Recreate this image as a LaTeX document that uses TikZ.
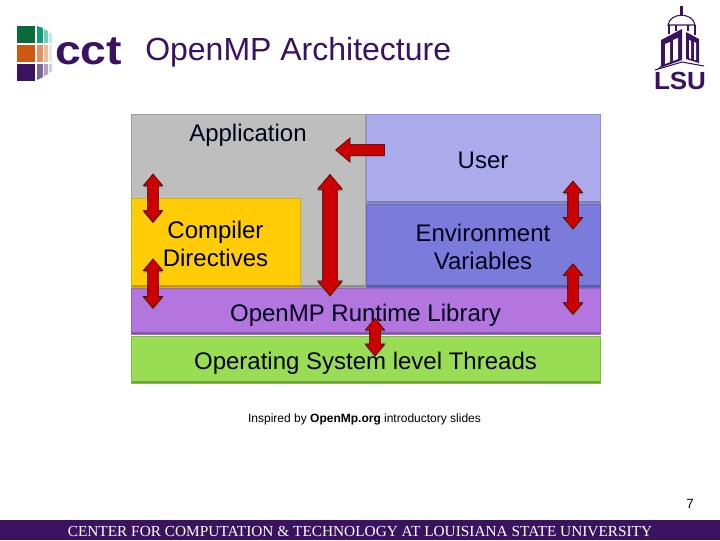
\documentclass[tikz,border=0pt]{standalone}
\usepackage{fontspec}
\setmainfont{Liberation Sans}
\newfontfamily\footerface{Liberation Serif}
\usetikzlibrary{positioning,shapes,shadows,arrows}
\usetikzlibrary{shapes.arrows}
\definecolor{lsupurple}{HTML}{3A1260}
\definecolor{redarrow}{HTML}{CC0000}
\definecolor{appgray}{HTML}{BEBEBE}
\definecolor{userblue}{HTML}{ABABEB}
\definecolor{envblue}{HTML}{7B7BDB}
\definecolor{compyellow}{HTML}{FFCC05}
\definecolor{libviolet}{HTML}{B376DF}
\definecolor{osgreen}{HTML}{99DD55}
\definecolor{cctgreen}{HTML}{0A6A3C}
\definecolor{cctorange}{HTML}{D0570F}
\definecolor{cctteal}{HTML}{0F9A7A}
\tikzset{
  panel/.style={fill=#1,draw=#1!85!black,line width=.5pt,inner sep=0pt,
    general shadow={fill=black!30,shadow xshift=.5pt,shadow yshift=-1pt},
    path picture={\draw[white,opacity=.5,line width=2pt]
      (path picture bounding box.north west) -- (path picture bounding box.north east);
      \draw[black,opacity=.25,line width=2.5pt]
      (path picture bounding box.south west) -- (path picture bounding box.south east);}},
  paneltext/.style={inner sep=0pt,align=center,text=black!90!blue,font=\fontsize{18}{21}\selectfont},
  updown/.style={double arrow,rotate=90,fill=redarrow,draw=black!70!redarrow,line width=.4pt,
    inner xsep=0pt,inner ysep=3.75pt,minimum height=#1,
    double arrow head extend=3.4pt,double arrow tip angle=80,
    general shadow={fill=black!50,shadow xshift=0pt,shadow yshift=-1.3pt}},
  bigupdown/.style={updown=#1,inner ysep=5.25pt,double arrow head extend=3.9pt},
  sideways/.style={single arrow,fill=redarrow,draw=black!70!redarrow,line width=.4pt,
    inner xsep=0pt,inner ysep=4.1pt,minimum height=#1,shape border rotate=180,
    single arrow head extend=4.9pt,single arrow tip angle=80},
}
\begin{document}
\begin{tikzpicture}[x=.75pt,y=-.75pt]
\useasboundingbox (0,0) rectangle (720,540);
% header
\node[anchor=west,inner sep=0pt,text=lsupurple,font=\fontsize{24}{28}\selectfont] (title) at (145,52) {OpenMP Architecture};
%
% cct logo
\fill[cctgreen] (17,26) rectangle (35,43);
\fill[cctorange] (17,45) rectangle (35,62);
\fill[lsupurple] (17,64) rectangle (35,81);
\fill[cctteal] (37,26) -- (43,28) -- (43,43) -- (37,43) -- cycle;
\fill[cctorange!65!white] (37,45) -- (43,45) -- (43,62) -- (37,62) -- cycle;
\fill[lsupurple!65!white] (37,64) -- (43,64) -- (43,77) -- (37,80) -- cycle;
\fill[cctteal!55!white] (44,29) -- (48,31) -- (48,43) -- (44,43) -- cycle;
\fill[cctorange!40!white] (44,45) -- (48,45) -- (48,62) -- (44,62) -- cycle;
\fill[lsupurple!40!white] (44,64) -- (48,64) -- (48,74) -- (44,76) -- cycle;
\fill[cctteal!25!white] (49,32) -- (52,34) -- (52,43) -- (49,43) -- cycle;
\fill[cctorange!18!white] (49,45) -- (52,45) -- (52,62) -- (49,62) -- cycle;
\fill[lsupurple!22!white] (49,64) -- (52,64) -- (52,71) -- (49,73) -- cycle;
\node[anchor=south,inner sep=0pt,text=lsupurple] (cct) at (88.5,65.5) {\resizebox{50.25pt}{20pt}{\bfseries cct}};
%
% lsu logo
\fill[lsupurple] (680,6) rectangle (683,15);
\draw[lsupurple,line width=.8pt] (668,25) .. controls (670,12) and (693,12) .. (695,25) -- cycle;
\draw[lsupurple,line width=.8pt] (669,25) -- (669,34) (676,25) -- (676,31) (688,25) -- (688,31) (695,25) -- (695,35);
\fill[lsupurple] (661,40) -- (682,29) -- (682,60) -- (657,69) -- (661,66) -- cycle;
\fill[white] (665,44) -- (670,42) -- (670,62) -- (665,64) -- cycle;
\fill[white] (673,40) -- (678,38) -- (678,59) -- (673,61) -- cycle;
\fill[lsupurple] (686,32) -- (699,39) -- (699,63) -- (686,59) -- cycle;
\fill[white] (689,40) -- (691,41) -- (691,59) -- (689,58) -- cycle;
\fill[white] (694,42) -- (696,43) -- (696,60) -- (694,60) -- cycle;
\draw[lsupurple,line width=.8pt] (655,70) -- (682,62) -- (704,66);
\node[anchor=south,inner sep=0pt,text=lsupurple] (lsu) at (680,90) {\resizebox{39pt}{13pt}{\bfseries LSU}};
%
% panels
\node[panel=appgray,minimum width=175.5pt,minimum height=129.75pt] (app) at (248,200.5) {};
\node[panel=userblue,minimum width=175.5pt,minimum height=66.75pt] (user) at (483,158.5) {};
\node[panel=envblue,minimum width=175.5pt,minimum height=62.25pt] (env) at (483,245.5) {};
\node[panel=compyellow,minimum width=126.75pt,minimum height=66.75pt] (comp) at (215.5,242.5) {};
\node[panel=libviolet,minimum width=351.75pt,minimum height=34.5pt] (lib) at (365.5,311) {};
\node[panel=osgreen,minimum width=351.75pt,minimum height=35.25pt] (os) at (365.5,359.5) {};
%
\node[paneltext] (applabel) at (248,135) {Application};
\node[paneltext] (userlabel) at (483,160.5) {User};
\node[paneltext] (envlabel) at (483,246.5) {Environment\\Variables};
\node[paneltext] (complabel) at (215.5,243.5) {Compiler\\Directives};
\node[paneltext] (liblabel) at (365.5,315) {OpenMP Runtime Library};
\node[paneltext] (oslabel) at (365.5,363.5) {Operating System level Threads};
%
% arrows
\node[updown=36pt] (a1) at (153,198) {};
\node[updown=37pt] (a2) at (153,283.5) {};
\node[bigupdown=91pt] (a3) at (330,235) {};
\node[updown=36pt] (a4) at (573,205) {};
\node[updown=38pt] (a5) at (573,289) {};
\node[updown=28pt] (a6) at (375,337) {};
\node[sideways=36.75pt] (a7) at (363.5,150) {};
%
% captions
\node[inner sep=0pt,font=\fontsize{9}{11}\selectfont] (credit) at (364.5,419) {Inspired by \textbf{OpenMp.org} introductory slides};
\node[inner sep=0pt,font=\fontsize{10}{12}\selectfont] (page) at (690,504) {7};
\node[fill=lsupurple,minimum width=540pt,minimum height=15pt,inner sep=0pt,text height=9.5pt,text depth=0pt,text=white,font=\footerface\fontsize{11.5}{13}\selectfont] (footer) at (360,530) {CENTER FOR COMPUTATION \& TECHNOLOGY AT LOUISIANA STATE UNIVERSITY};
\end{tikzpicture}
\end{document}
